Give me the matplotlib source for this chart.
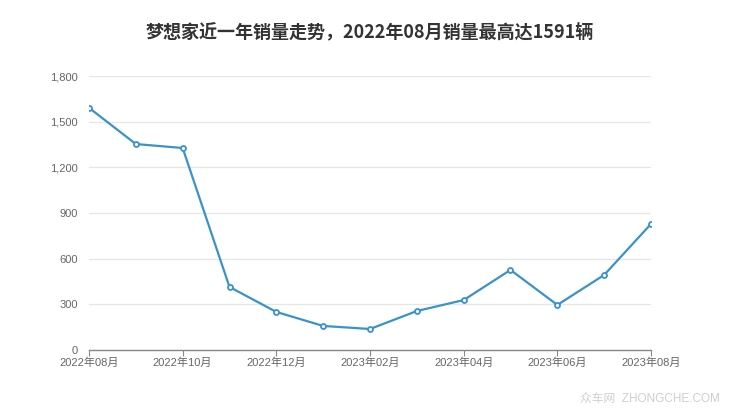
import matplotlib
matplotlib.use("Agg")
import matplotlib.pyplot as plt

plt.rcParams['font.family'] = ['Noto Sans CJK SC', 'DejaVu Sans']

months = ["2022年08月", "2022年09月", "2022年10月", "2022年11月", "2022年12月",
          "2023年01月", "2023年02月", "2023年03月", "2023年04月", "2023年05月",
          "2023年06月", "2023年07月", "2023年08月"]
sales = [1591, 1353, 1327, 414, 250, 158, 138, 256, 328, 526, 296, 493, 828]
yticks = [0, 300, 600, 900, 1200, 1500, 1800]
title = "梦想家近一年销量走势，2022年08月销量最高达1591辆"

tick_fam = ['Liberation Sans', 'Noto Sans CJK SC']

fig = plt.figure(figsize=(7.4, 4.17), dpi=100)
ax = fig.add_axes([89/740, 1-350/417, (651-89)/740, (350-76)/417])

x = list(range(len(months)))
ax.plot(x, sales, color="#3a93c8", lw=1.6, marker="o", ms=3.6,
        mfc="white", mec="#3a93c8", mew=1.3, zorder=3)

ax.set_xlim(0, len(months) - 1)
ax.set_ylim(0, 1800)
ax.set_yticks(yticks)
ax.set_yticklabels([f"{v:,}" for v in yticks], family=tick_fam)
ax.set_xticks(x[::2])
ax.set_xticklabels(months[::2], family=tick_fam)

ax.grid(axis="y", color="#e6e6e6", lw=0.9)
ax.set_axisbelow(True)
for s in ["top", "right", "left"]:
    ax.spines[s].set_visible(False)
ax.spines["bottom"].set_color("#888888")
ax.spines["bottom"].set_linewidth(1.0)
ax.tick_params(axis="y", length=0, pad=8, labelsize=8, labelcolor="#666666")
ax.tick_params(axis="x", length=4, color="#888888", pad=1.5, labelsize=8, labelcolor="#666666")

fig.text(0.5, 1 - 32/417, title, ha="center", va="center", fontsize=13,
         fontweight="bold", color="#333333")
fig.text(720/740, 1 - 399/417, "众车网  ZHONGCHE.COM", ha="right", va="center",
         fontsize=8.5, color="#cfcfcf", family=tick_fam)

fig.savefig("out.png", dpi=100)
